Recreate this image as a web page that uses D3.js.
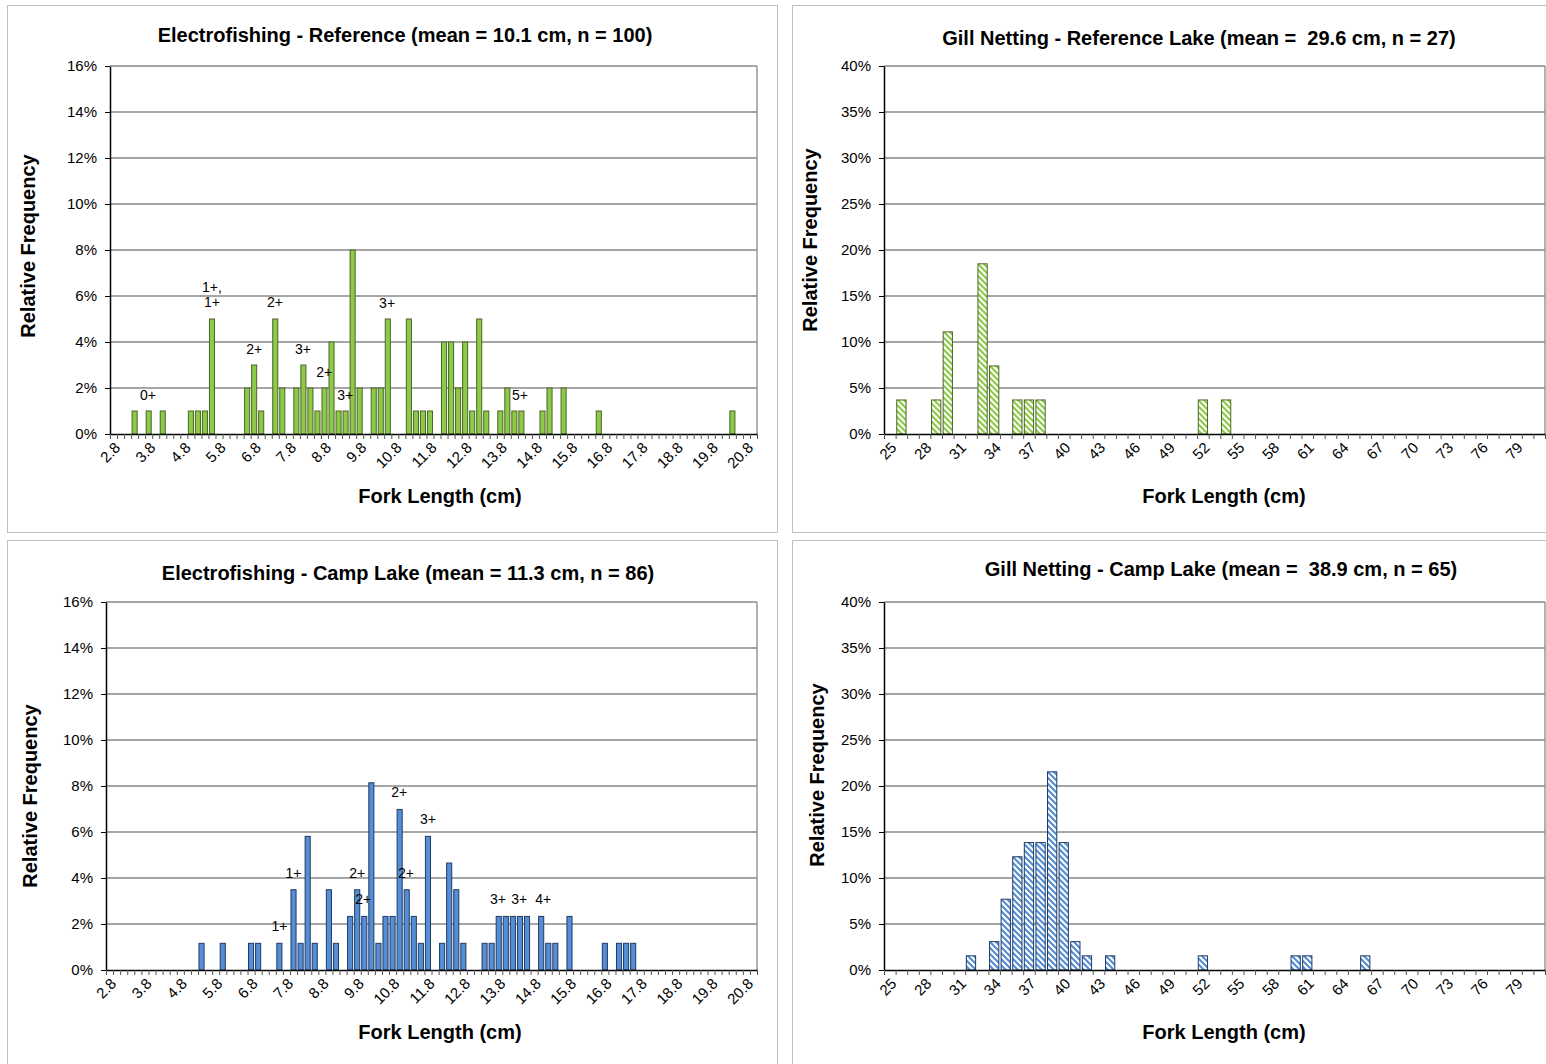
<!DOCTYPE html>
<html>
<head>
<meta charset="utf-8">
<script src="https://cdn.jsdelivr.net/npm/d3@7"></script>
<style>
  body { margin: 0; background: #fff; }
  svg text { font-family: "Liberation Sans", Arial, sans-serif; fill: #000; }
</style>
</head>
<body>
<svg id="chart" width="1546" height="1064"></svg>
<script>
// electrofishing bins are 0.2 cm wide, gill netting bins 1 cm
const efBins = d3.range(92).map(i => (2.8 + i * 0.2).toFixed(1));
const gnBins = d3.range(25, 82).map(String);
const efTickLabels = ["2.8", "3.8", "4.8", "5.8", "6.8", "7.8", "8.8", "9.8", "10.8", "11.8",
  "12.8", "13.8", "14.8", "15.8", "16.8", "17.8", "18.8", "19.8", "20.8"];
const gnTickLabels = ["25", "28", "31", "34", "37", "40", "43", "46", "49", "52", "55", "58",
  "61", "64", "67", "70", "73", "76", "79"];
const efYTicks = [0, 2, 4, 6, 8, 10, 12, 14, 16];
const gnYTicks = [0, 5, 10, 15, 20, 25, 30, 35, 40];

// Electrofishing - Reference
const efRefLengths = [3.4, 3.8, 4.2, 5.0, 5.2, 5.4, 5.6, 6.6, 6.8, 7.0, 7.4, 7.6, 8.0, 8.2, 8.4,
  8.6, 8.8, 9.0, 9.2, 9.4, 9.6, 9.8, 10.2, 10.4, 10.6, 11.2, 11.4, 11.6, 11.8, 12.2, 12.4, 12.6,
  12.8, 13.0, 13.2, 13.4, 13.8, 14.0, 14.2, 14.4, 15.0, 15.2, 15.6, 16.6, 20.4];
const efRefPct = [1, 1, 1, 1, 1, 1, 5, 2, 3, 1, 5, 2, 2, 3, 2,
  1, 2, 4, 1, 1, 8, 2, 2, 2, 5, 5, 1, 1, 1, 4, 4, 2,
  4, 1, 5, 1, 1, 2, 1, 1, 1, 2, 2, 1, 1];
const efRefAgeText = ["0+", "1+,", "1+", "2+", "2+", "3+", "2+", "3+", "3+", "5+"];
const efRefAgeLen = [3.78, 5.6, 5.6, 6.8, 7.39, 8.19, 8.79, 9.39, 10.58, 14.36];
const efRefAgePct = [1.7, 6.4, 5.75, 3.7, 5.75, 3.7, 2.7, 1.7, 5.7, 1.7];

// Electrofishing - Camp Lake
const efCampLengths = [5.4, 6.0, 6.8, 7.0, 7.6, 8.0, 8.2, 8.4, 8.6, 9.0, 9.2, 9.6, 9.8, 10.0,
  10.2, 10.4, 10.6, 10.8, 11.0, 11.2, 11.4, 11.6, 11.8, 12.2, 12.4, 12.6, 12.8, 13.4, 13.6, 13.8,
  14.0, 14.2, 14.4, 14.6, 15.0, 15.2, 15.4, 15.8, 16.8, 17.2, 17.4, 17.6];
const efCampPct = [1.16, 1.16, 1.16, 1.16, 1.16, 3.49, 1.16, 5.81, 1.16, 3.49, 1.16, 2.33, 3.49, 2.33,
  8.14, 1.16, 2.33, 2.33, 6.98, 3.49, 2.33, 1.16, 5.81, 1.16, 4.65, 3.49, 1.16, 1.16, 1.16, 2.33,
  2.33, 2.33, 2.33, 2.33, 2.33, 1.16, 1.16, 2.33, 1.16, 1.16, 1.16, 1.16];
const efCampAgeText = ["1+", "1+", "2+", "2+", "2+", "2+", "3+", "3+", "3+", "4+"];
const efCampAgeLen = [7.6, 8.0, 9.8, 9.97, 10.99, 11.18, 11.8, 13.78, 14.38, 15.06];
const efCampAgePct = [1.9, 4.2, 4.2, 3.1, 7.75, 4.2, 6.55, 3.1, 3.1, 3.1];

// Gill Netting - Reference Lake
const gnRefLengths = [26, 29, 30, 33, 34, 36, 37, 38, 52, 54];
const gnRefPct = [3.7, 3.7, 11.1, 18.5, 7.4, 3.7, 3.7, 3.7, 3.7, 3.7];

// Gill Netting - Camp Lake
const gnCampLengths = [32, 34, 35, 36, 37, 38, 39, 40, 41, 42, 44, 52, 60, 61, 66];
const gnCampPct = [1.54, 3.08, 7.69, 12.31, 13.85, 13.85, 21.54, 13.85, 3.08, 1.54, 1.54, 1.54,
  1.54, 1.54, 1.54];

const svg = d3.select('#chart');
const defs = svg.append('defs');

function hatch(id, color) {
  const pat = defs.append('pattern')
    .attr('id', id)
    .attr('patternUnits', 'userSpaceOnUse')
    .attr('width', 6)
    .attr('height', 6);
  pat.append('rect').attr('width', 6).attr('height', 6).attr('fill', '#fff');
  pat.append('path')
    .attr('d', 'M-1,-1 L7,7 M-1,5 L1,7 M5,-1 L7,1')
    .attr('stroke', color)
    .attr('stroke-width', 2.2);
}
hatch('hatchGreen', '#8CCB47');
hatch('hatchBlue', '#558ED5');

const greenFill = '#8CCB47', greenStroke = '#4F6228';
const blueFill = '#558ED5', blueStroke = '#1F3B63';

function drawPanel(p) {
  const g = svg.append('g');

  g.append('rect')
    .attr('x', p.box[0] + 0.5).attr('y', p.box[1] + 0.5)
    .attr('width', p.box[2]).attr('height', p.box[3])
    .attr('fill', '#fff').attr('stroke', '#BFBFBF').attr('stroke-width', 1);

  const x = d3.scaleBand()
    .domain(p.bins)
    .range([p.l, p.r])
    .paddingInner(p.pad)
    .paddingOuter(p.pad / 2);
  const y = d3.scaleLinear().domain([0, p.yTicks[p.yTicks.length - 1]]).range([p.b, p.t]);
  const step = x.step();
  const center = d => x(d) + x.bandwidth() / 2;
  // continuous position for age labels
  const xc = d3.scaleLinear()
    .domain([+p.bins[0], +p.bins[p.bins.length - 1]])
    .range([center(p.bins[0]), center(p.bins[p.bins.length - 1])]);

  // gridlines
  g.append('g').selectAll('line')
    .data(p.yTicks.slice(1))
    .enter()
    .append('line')
    .attr('x1', p.l).attr('x2', p.r)
    .attr('y1', d => y(d)).attr('y2', d => y(d))
    .attr('stroke', '#888').attr('stroke-width', 1.3);

  // plot area border (right side)
  g.append('line')
    .attr('x1', p.r).attr('x2', p.r).attr('y1', p.t).attr('y2', p.b)
    .attr('stroke', '#888').attr('stroke-width', 1.3);

  // bars
  const rows = p.lengths.map((len, i) => ({ key: p.fmt(len), v: p.pct[i] }));
  g.append('g').selectAll('rect')
    .data(rows)
    .enter()
    .append('rect')
    .attr('x', d => x(d.key))
    .attr('y', d => y(d.v))
    .attr('width', x.bandwidth())
    .attr('height', d => y(0) - y(d.v))
    .attr('fill', p.fill)
    .attr('stroke', p.stroke)
    .attr('stroke-width', 1);

  // y axis
  const yAxis = g.append('g')
    .attr('transform', 'translate(' + p.l + ',0)')
    .call(d3.axisLeft(y).tickValues(p.yTicks).tickFormat(d => d + '%')
      .tickSize(5).tickSizeOuter(0).tickPadding(8));
  yAxis.select('.domain').attr('stroke', '#000').attr('stroke-width', 1.5);
  yAxis.selectAll('.tick line').attr('stroke', '#000');
  yAxis.selectAll('.tick text').attr('font-size', 15).attr('font-family', '"Liberation Sans", Arial, sans-serif');

  // x axis: ticks on bin edges
  const edge = d3.scaleLinear().domain([0, p.bins.length]).range([p.l, p.r]);
  const xAxis = g.append('g')
    .attr('transform', 'translate(0,' + p.b + ')')
    .call(d3.axisBottom(edge).tickValues(d3.range(p.bins.length + 1))
      .tickFormat('').tickSize(5).tickSizeOuter(0));
  xAxis.select('.domain').attr('stroke', '#000').attr('stroke-width', 1.5);
  xAxis.selectAll('.tick line').attr('stroke', '#555');

  g.append('g').selectAll('text')
    .data(p.tickLabels)
    .enter()
    .append('text')
    .attr('transform', d => 'translate(' + (center(d) + 4) + ',' + (p.b + 11) + ') rotate(-45)')
    .attr('text-anchor', 'end')
    .attr('dy', '0.35em')
    .attr('font-size', 15)
    .text(d => d);

  // age annotations
  if (p.ageText) {
    g.append('g').selectAll('text')
      .data(p.ageText)
      .enter()
      .append('text')
      .attr('x', (d, i) => xc(p.ageLen[i]))
      .attr('y', (d, i) => y(p.agePct[i]))
      .attr('dy', '0.35em')
      .attr('text-anchor', 'middle')
      .attr('font-size', 14)
      .text(d => d);
  }

  // titles
  g.append('text')
    .attr('x', p.titleX).attr('y', p.titleY)
    .attr('text-anchor', 'middle')
    .attr('font-size', 20).attr('font-weight', 'bold')
    .style('white-space', 'pre')
    .text(p.title);
  g.append('text')
    .attr('x', p.xTitleX).attr('y', p.b + 69)
    .attr('text-anchor', 'middle')
    .attr('font-size', 20).attr('font-weight', 'bold')
    .text('Fork Length (cm)');
  g.append('text')
    .attr('transform', 'translate(' + p.yTitle[0] + ',' + p.yTitle[1] + ') rotate(-90)')
    .attr('text-anchor', 'middle')
    .attr('dy', '0.35em')
    .attr('font-size', 20).attr('font-weight', 'bold')
    .text('Relative Frequency');
}

const efFmt = v => (+v).toFixed(1);
const gnFmt = v => String(v);

drawPanel({
  box: [7, 5, 770, 527], l: 110, r: 757, t: 66, b: 434, pad: 0.28,
  bins: efBins, tickLabels: efTickLabels, yTicks: efYTicks, fmt: efFmt,
  lengths: efRefLengths, pct: efRefPct, fill: greenFill, stroke: greenStroke,
  ageText: efRefAgeText, ageLen: efRefAgeLen, agePct: efRefAgePct,
  title: 'Electrofishing - Reference (mean = 10.1 cm, n = 100)', titleX: 405, titleY: 42,
  xTitleX: 440, yTitle: [28, 246]
});

drawPanel({
  box: [792, 5, 770, 527], l: 884, r: 1545, t: 66, b: 434, pad: 0.2,
  bins: gnBins, tickLabels: gnTickLabels, yTicks: gnYTicks, fmt: gnFmt,
  lengths: gnRefLengths, pct: gnRefPct, fill: 'url(#hatchGreen)', stroke: greenStroke,
  title: 'Gill Netting - Reference Lake (mean =  29.6 cm, n = 27)', titleX: 1199, titleY: 45,
  xTitleX: 1224, yTitle: [810, 240]
});

drawPanel({
  box: [7, 540, 770, 540], l: 106, r: 757, t: 602, b: 970, pad: 0.28,
  bins: efBins, tickLabels: efTickLabels, yTicks: efYTicks, fmt: efFmt,
  lengths: efCampLengths, pct: efCampPct, fill: blueFill, stroke: blueStroke,
  ageText: efCampAgeText, ageLen: efCampAgeLen, agePct: efCampAgePct,
  title: 'Electrofishing - Camp Lake (mean = 11.3 cm, n = 86)', titleX: 408, titleY: 580,
  xTitleX: 440, yTitle: [30, 796]
});

drawPanel({
  box: [792, 540, 770, 540], l: 884, r: 1545, t: 602, b: 970, pad: 0.2,
  bins: gnBins, tickLabels: gnTickLabels, yTicks: gnYTicks, fmt: gnFmt,
  lengths: gnCampLengths, pct: gnCampPct, fill: 'url(#hatchBlue)', stroke: blueStroke,
  title: 'Gill Netting - Camp Lake (mean =  38.9 cm, n = 65)', titleX: 1221, titleY: 576,
  xTitleX: 1224, yTitle: [817, 775]
});
</script>
</body>
</html>
